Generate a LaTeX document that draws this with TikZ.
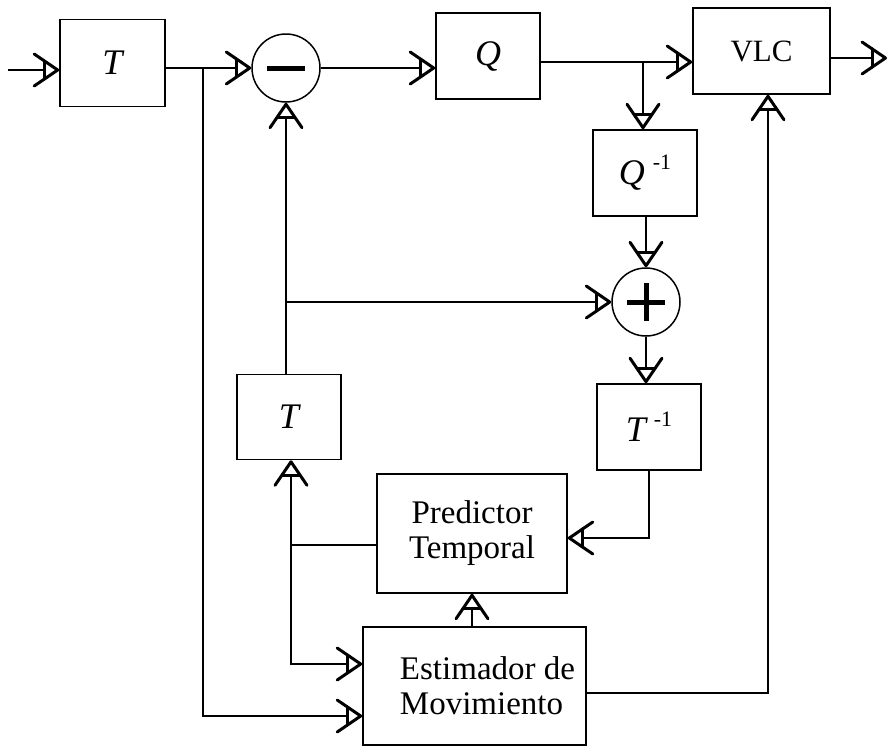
\documentclass[tikz,border=0pt]{standalone}
\usepackage{fontspec}
\setmainfont{Liberation Serif}
\usetikzlibrary{arrows.meta}
\pgfdeclarearrow{
  name=TriBarb,
  setup code={
    \pgfarrowssettipend{0pt}
    \pgfarrowssetlineend{-15pt}
    \pgfarrowssetbackend{-26pt}
    \pgfarrowsupperhullpoint{0pt}{0pt}
    \pgfarrowsupperhullpoint{-26pt}{17pt}
  },
  drawing code={
    \pgfsetdash{}{0pt}
    \pgfsetlinewidth{3pt}
    \pgfsetroundjoin
    \pgfsetroundcap
    \pgfpathmoveto{\pgfpoint{-25pt}{16pt}}
    \pgfpathlineto{\pgfpoint{-1.5pt}{0pt}}
    \pgfpathlineto{\pgfpoint{-25pt}{-16pt}}
    \pgfusepathqstroke
    \pgfpathmoveto{\pgfpoint{-15pt}{9.2pt}}
    \pgfpathlineto{\pgfpoint{-15pt}{-9.2pt}}
    \pgfusepathqstroke
  }
}
\tikzset{
  blk/.style={draw, line width=1.6pt, rectangle, inner sep=0pt, font=\fontsize{33}{35}\selectfont},
  sumnode/.style={draw, line width=1.5pt, circle, minimum size=68pt, inner sep=0pt},
  conn/.style={line width=1.5pt},
  arr/.style={conn, -{TriBarb}},
  bar/.style={line width=5pt},
  ital/.style={font=\fontsize{36}{38}\selectfont\itshape}
}
\newcommand{\supm}[1]{{\itshape #1}\kern8pt\raisebox{15pt}{\upshape\fontsize{22}{22}\selectfont -1}}
\begin{document}
\begin{tikzpicture}[x=1pt, y=-1pt]
\useasboundingbox (0,0) rectangle (888,747);
% blocks
\node[blk, ital, minimum width=105pt, minimum height=87pt] (T1) at (112.5,63) {T};
\node[sumnode] (minus) at (286,68) {};
\node[blk, ital, minimum width=104pt, minimum height=86pt] (Q) at (488,56) {Q};
\node[blk, minimum width=137pt, minimum height=86pt, font=\fontsize{31}{33}\selectfont] (VLC) at (761.5,51) {VLC};
\node[blk, ital, minimum width=104pt, minimum height=86pt] (Qi) at (645,173) {\supm{Q}};
\node[sumnode] (plus) at (646,302) {};
\node[blk, ital, minimum width=104pt, minimum height=86pt] (Ti) at (649,427) {\supm{T}};
\node[blk, ital, minimum width=104pt, minimum height=85pt] (T2) at (289,417) {T};
\node[blk, minimum width=190pt, minimum height=119pt, align=center] (Pred) at (472,533.5) {Predictor\\Temporal};
\node[blk, minimum width=223pt, minimum height=118pt, align=left] (Est) at (474.5,686) {\hspace*{26pt}Estimador de\\\hspace*{26pt}Movimiento};
% signs
\draw[bar] ([xshift=-19pt]minus.center) -- ([xshift=19pt]minus.center);
\draw[bar] ([xshift=-19pt]plus.center) -- ([xshift=19pt]plus.center);
\draw[bar] ([yshift=-19pt]plus.center) -- ([yshift=19pt]plus.center);
% junctions and corners
\coordinate (in) at (8,70);
\coordinate (j1) at (203,68);
\coordinate (j2) at (643,62);
\coordinate (out) at (887,58);
\coordinate (c1) at (649,538);
\coordinate (j3) at (286,302);
\coordinate (j4) at (291,545);
\coordinate (c2) at (291,664);
\coordinate (c3) at (203,716);
\coordinate (c4) at (768,693);
% connectors
\draw[arr] (in) -- (in -| T1.west);
\draw[conn] (T1.east |- j1) -- (j1);
\draw[arr] (j1) -- (minus.west);
\draw[arr] (minus.east) -- (minus.east -| Q.west);
\draw[conn] (Q.east |- j2) -- (j2);
\draw[arr] (j2) -- (j2 -| VLC.west);
\draw[arr] (j2) -- (j2 |- Qi.north);
\draw[arr] (VLC.east |- out) -- (out);
\draw[arr] (plus.north |- Qi.south) -- (plus.north);
\draw[arr] (plus.south) -- (plus.south |- Ti.north);
\draw[arr] (Ti.south) -- (c1) -- (c1 -| Pred.east);
\draw[arr] (T2.north -| minus.south) -- (minus.south);
\draw[arr] (j3) -- (plus.west);
\draw[conn] (Pred.west |- j4) -- (j4);
\draw[arr] (j4) -- (j4 |- T2.south);
\draw[arr] (j4) -- (c2) -- (c2 -| Est.west);
\draw[arr] (j1) -- (c3) -- (c3 -| Est.west);
\draw[arr] (Est.north -| Pred.south) -- (Pred.south);
\draw[arr] (Est.east |- c4) -- (c4) -- (c4 |- VLC.south);
\end{tikzpicture}
\end{document}
